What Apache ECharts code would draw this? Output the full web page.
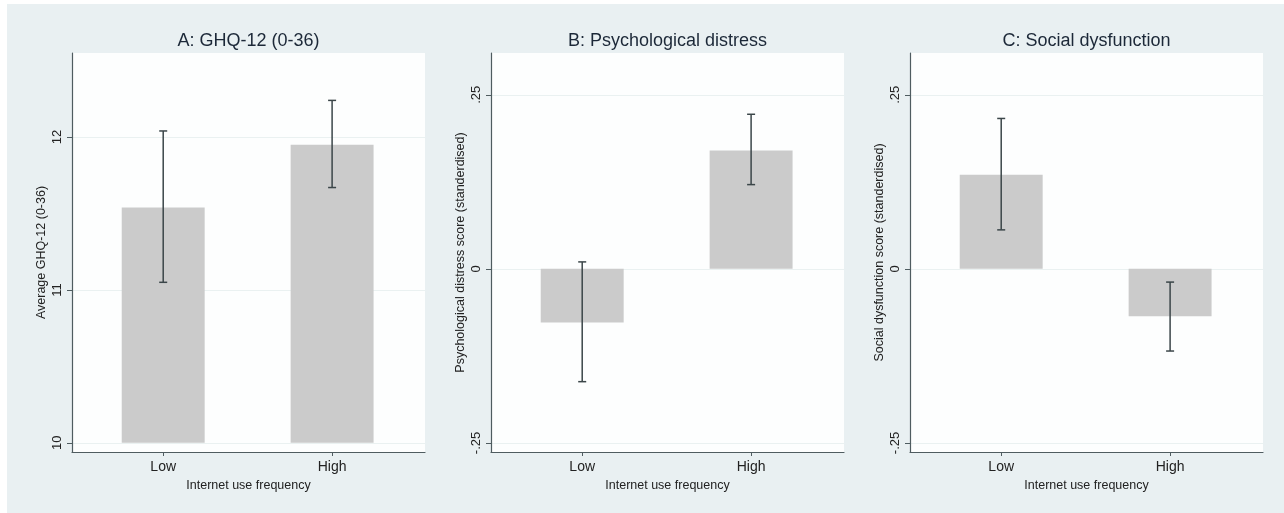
<!DOCTYPE html>
<html><head><meta charset="utf-8">
<script src="https://cdn.jsdelivr.net/npm/echarts@6/dist/echarts.min.js"></script>
<style>html,body{margin:0;padding:0;background:#fff}#c{width:1284px;height:513px}</style>
</head><body><div id="c"></div>
<script>
const categories = ['Low', 'High'];
const titles = ['A: GHQ-12 (0-36)', 'B: Psychological distress', 'C: Social dysfunction'];
const yNames = ['Average GHQ-12 (0-36)', 'Psychological distress score (standerdised)', 'Social dysfunction score (standerdised)'];
const xName = 'Internet use frequency';

const ghqMean = [11.54, 11.95];
const ghqLower = [11.05, 11.67];
const ghqUpper = [12.04, 12.24];
const distressMean = [-0.077, 0.170];
const distressLower = [-0.162, 0.121];
const distressUpper = [0.010, 0.222];
const dysfunctionMean = [0.135, -0.068];
const dysfunctionLower = [0.056, -0.118];
const dysfunctionUpper = [0.216, -0.019];

const ghqTicks = [10, 11, 12];
const ghqTickLabels = ['10', '11', '12'];
const stdTicks = [-0.25, 0, 0.25];
const stdTickLabels = ['-.25', '0', '.25'];

const FONT = "'Liberation Sans', Arial, Helvetica, sans-serif";
const panels = [
  { mean: ghqMean, lo: ghqLower, hi: ghqUpper, ticks: ghqTicks, labels: ghqTickLabels, min: 9.94, max: 12.55, base: 10, left: 72 },
  { mean: distressMean, lo: distressLower, hi: distressUpper, ticks: stdTicks, labels: stdTickLabels, min: -0.263, max: 0.31, base: 0, left: 491 },
  { mean: dysfunctionMean, lo: dysfunctionLower, hi: dysfunctionUpper, ticks: stdTicks, labels: stdTickLabels, min: -0.263, max: 0.31, base: 0, left: 910 }
];
const GRID_W = 353, GRID_TOP = 53, GRID_H = 399;
const AXIS_COLOR = '#4f5c60';
const TEXT_COLOR = '#222';

const option = {
  animation: false,
  backgroundColor: '#ffffff',
  graphic: [{ type: 'rect', silent: true, z: -10, shape: { x: 7, y: 4, width: 1277, height: 509 }, style: { fill: '#e9f0f2' } }],
  title: [], grid: [], xAxis: [], yAxis: [], series: []
};

panels.forEach((p, i) => {
  option.title.push({
    text: titles[i], left: p.left + GRID_W / 2, top: 32, textAlign: 'center', padding: 0,
    textStyle: { fontFamily: FONT, fontSize: 18, fontWeight: 'normal', color: '#1c2838' }
  });
  option.grid.push({
    left: p.left, top: GRID_TOP, width: GRID_W, height: GRID_H,
    show: true, backgroundColor: '#fdfefe', borderWidth: 0
  });
  option.xAxis.push({
    type: 'value', gridIndex: i, min: 0.46, max: 2.55,
    name: xName, nameLocation: 'middle', nameGap: 24,
    nameTextStyle: { fontFamily: FONT, fontSize: 12.5, color: TEXT_COLOR },
    axisLine: { show: true, onZero: false, lineStyle: { color: AXIS_COLOR, width: 1.2 } },
    axisTick: { show: true, length: 4, customValues: [1, 2], lineStyle: { color: AXIS_COLOR } },
    axisLabel: { customValues: [1, 2], margin: 8, fontFamily: FONT, fontSize: 14, color: TEXT_COLOR,
      formatter: v => categories[Math.round(v) - 1] },
    splitLine: { show: false }
  });
  option.yAxis.push({
    type: 'value', gridIndex: i, min: p.min, max: p.max,
    name: yNames[i], nameLocation: 'middle', nameGap: 24, nameRotate: 90,
    nameTextStyle: { fontFamily: FONT, fontSize: 12.5, color: TEXT_COLOR },
    axisLine: { show: true, onZero: false, lineStyle: { color: AXIS_COLOR, width: 1.2 } },
    axisTick: { show: true, length: 5, customValues: p.ticks, lineStyle: { color: AXIS_COLOR } },
    axisLabel: { customValues: p.ticks, rotate: 90, margin: 8, fontFamily: FONT, fontSize: 13, color: TEXT_COLOR,
      formatter: v => { const k = p.ticks.findIndex(t => Math.abs(t - v) < 1e-9); return k >= 0 ? p.labels[k] : ''; } },
    splitLine: { show: true, lineStyle: { color: '#eaf1f1', width: 1 } }
  });
  const base = p.base;
  option.series.push({
    type: 'custom', xAxisIndex: i, yAxisIndex: i,
    data: categories.map((c, k) => [k + 1, p.mean[k]]),
    renderItem: (params, api) => {
      const x = api.value(0), v = api.value(1);
      const a = api.coord([x - 0.2455, v]);
      const b = api.coord([x + 0.2455, base]);
      return { type: 'rect', shape: { x: Math.min(a[0], b[0]), y: Math.min(a[1], b[1]), width: Math.abs(b[0] - a[0]), height: Math.abs(b[1] - a[1]) },
        style: { fill: '#cbcbcb' } };
    }
  });
  option.series.push({
    type: 'custom', xAxisIndex: i, yAxisIndex: i, z: 5,
    data: categories.map((c, k) => [k + 1, p.lo[k], p.hi[k]]),
    renderItem: (params, api) => {
      const x = api.value(0);
      const lo = api.coord([x, api.value(1)]);
      const hi = api.coord([x, api.value(2)]);
      const st = { stroke: '#3b4649', lineWidth: 1.5 };
      return { type: 'group', children: [
        { type: 'line', shape: { x1: lo[0], y1: lo[1], x2: hi[0], y2: hi[1] }, style: st },
        { type: 'line', shape: { x1: lo[0] - 4, y1: lo[1], x2: lo[0] + 4, y2: lo[1] }, style: st },
        { type: 'line', shape: { x1: hi[0] - 4, y1: hi[1], x2: hi[0] + 4, y2: hi[1] }, style: st }
      ] };
    }
  });
});

const chart = echarts.init(document.getElementById('c'), null, { renderer: 'canvas' });
chart.setOption(option);
</script>
</body></html>
